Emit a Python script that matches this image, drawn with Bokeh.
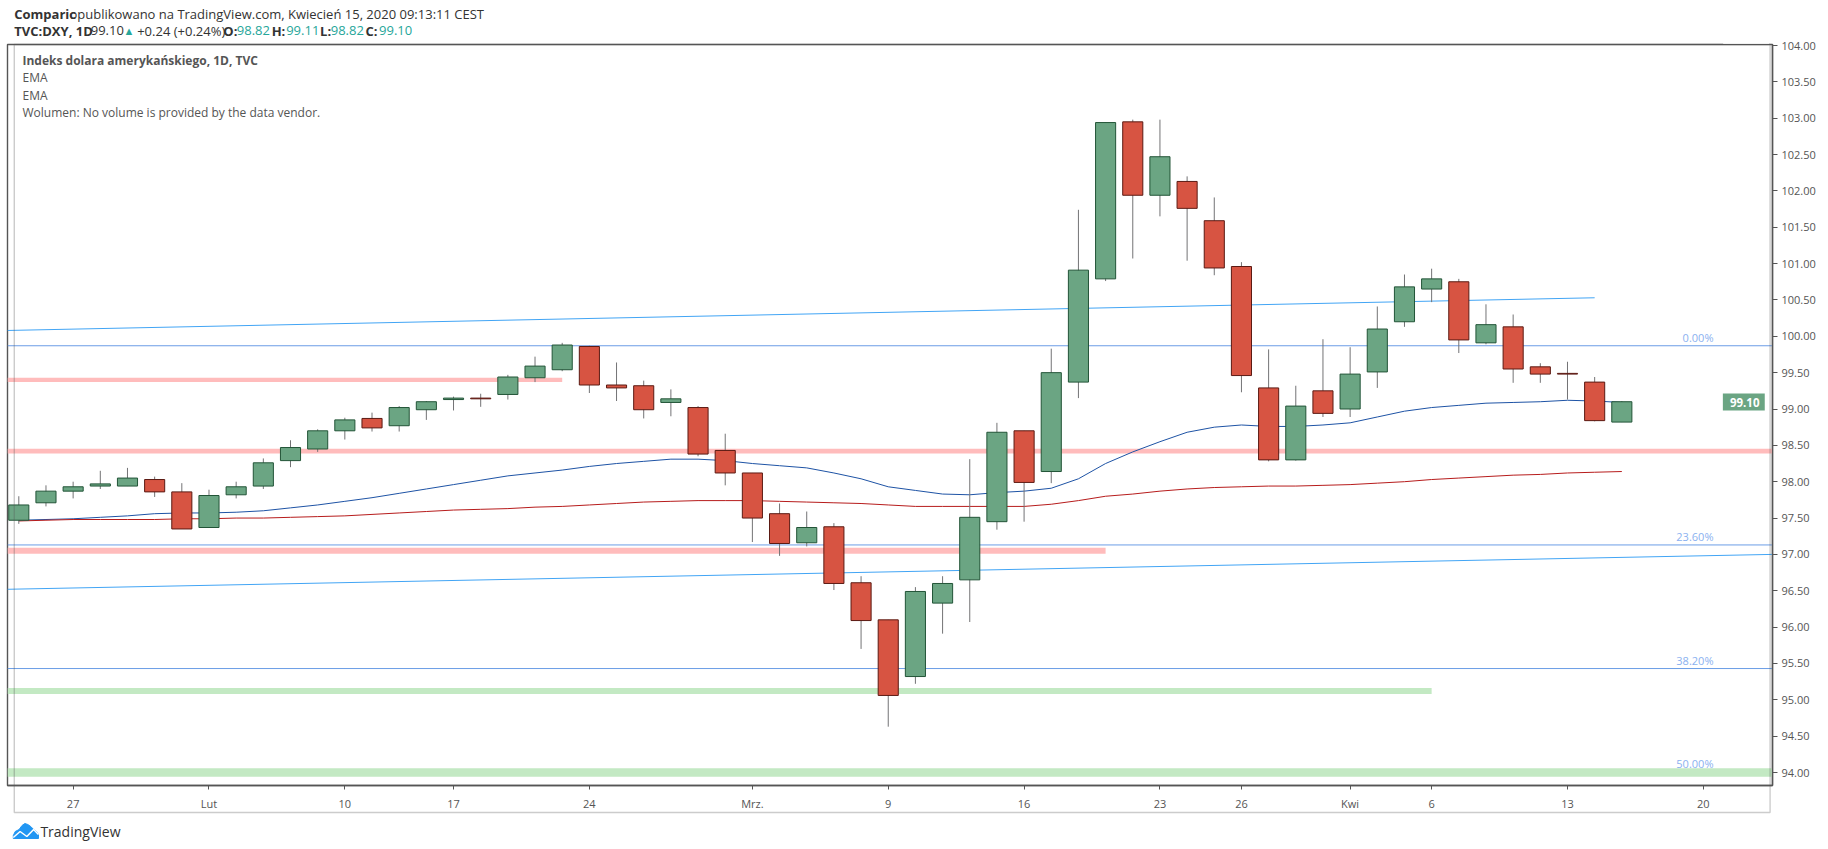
from bokeh.plotting import figure
from bokeh.layouts import column
from bokeh.embed import file_html
from bokeh.resources import INLINE
from bokeh.models import (Range1d, LinearAxis, FixedTicker, NumeralTickFormatter, Label, BoxAnnotation)

# ---- data ----
opens = [97.47,97.71,97.87,97.94,97.94,98.03,97.86,97.37,97.82,97.94,
         98.29,98.45,98.70,98.87,98.77,98.99,99.13,99.15,99.20,99.43,
         99.54,99.86,99.33,99.32,99.09,99.02,98.43,98.12,97.56,97.16,
         97.38,96.61,96.10,95.32,96.33,96.65,97.45,98.70,98.14,99.37,
         100.79,102.95,101.94,102.13,101.59,100.96,99.29,98.30,99.25,99.00,
         99.51,100.20,100.65,100.75,99.91,100.13,99.58,99.49,99.37,98.82]
highs = [97.80,97.95,98.00,98.15,98.19,98.07,97.98,97.89,98.00,98.32,
         98.57,98.72,98.88,98.95,99.04,99.11,99.17,99.21,99.47,99.72,
         99.91,99.87,99.64,99.39,99.27,99.04,98.66,98.12,97.70,97.59,
         97.43,96.70,96.10,96.55,96.70,98.31,98.81,98.70,99.83,101.74,
         102.94,102.98,102.98,102.20,101.91,101.02,99.82,99.32,99.96,99.85,
         100.41,100.85,100.93,100.79,100.44,100.30,99.63,99.65,99.44,99.11]
lows = [97.42,97.66,97.77,97.90,97.94,97.79,97.35,97.37,97.77,97.90,
        98.20,98.41,98.58,98.69,98.69,98.85,98.98,99.03,99.13,99.37,
        99.52,99.22,99.11,98.87,98.90,98.35,97.95,97.17,96.98,97.11,
        96.51,95.70,94.63,95.22,95.91,96.07,97.34,97.45,97.98,99.15,
        100.76,101.07,101.65,101.04,100.84,99.23,98.28,98.29,98.89,98.89,
        99.29,100.13,100.47,99.77,99.89,99.36,99.36,99.13,98.83,98.82]
closes = [97.68,97.87,97.93,97.97,98.05,97.86,97.35,97.81,97.93,98.26,
          98.47,98.70,98.85,98.74,99.02,99.10,99.15,99.14,99.44,99.59,
          99.88,99.33,99.29,98.99,99.14,98.38,98.12,97.50,97.15,97.37,
          96.60,96.09,95.06,96.49,96.60,97.51,98.68,97.99,99.50,100.91,
          102.94,101.94,102.47,101.76,100.94,99.46,98.30,99.04,98.94,99.48,
          100.10,100.68,100.79,99.95,100.16,99.55,99.48,99.48,98.84,99.10]
ema_fast = [97.47,97.48,97.49,97.51,97.53,97.56,97.57,97.57,97.58,97.60,
            97.64,97.68,97.73,97.78,97.84,97.90,97.96,98.02,98.08,98.12,
            98.16,98.21,98.25,98.28,98.31,98.31,98.29,98.25,98.22,98.19,
            98.12,98.04,97.93,97.88,97.83,97.82,97.85,97.87,97.91,98.04,
            98.25,98.41,98.55,98.68,98.75,98.78,98.76,98.76,98.78,98.81,
            98.89,98.97,99.02,99.05,99.08,99.09,99.10,99.12,99.11,99.09]
ema_slow = [97.46,97.47,97.48,97.48,97.48,97.48,97.49,97.49,97.50,97.50,
            97.51,97.52,97.53,97.55,97.57,97.59,97.61,97.62,97.63,97.65,
            97.66,97.68,97.70,97.72,97.73,97.74,97.74,97.74,97.73,97.72,
            97.71,97.70,97.68,97.66,97.66,97.66,97.66,97.66,97.69,97.74,
            97.80,97.83,97.87,97.90,97.92,97.93,97.94,97.94,97.95,97.96,
            97.98,98.00,98.03,98.05,98.07,98.09,98.10,98.12,98.13,98.14]
xtick_idx = [2,7,12,16,21,27,32,37,42,45,49,52,57,62]
xtick_labels = ["27","Lut","10","17","24","Mrz.","9","16","23","26","Kwi","6","13","20"]
ytick_vals = [94,94.5,95,95.5,96,96.5,97,97.5,98,98.5,99,99.5,100,100.5,101,101.5,102,102.5,103,103.5,104]
fib_levels = [99.87,97.13,95.43,94.01]
fib_labels = ["0.00%","23.60%","38.20%","50.00%"]
pink_levels = [99.40,98.42,97.05]
pink_ends = [20,64.55,40]
pink_widths = [4.4,4.8,6]
green_levels = [95.12,94.00]
green_ends = [52,64.55]
green_widths = [6,8.5]
trend_x0 = [-0.42,-0.42]
trend_y0 = [100.08,96.52]
trend_x1 = [58,64.55]
trend_y1 = [100.53,97.00]
logo_x = [6,6,8,12,15,18,21,24,27,30,32,32]
logo_y = [838,835,831,829,825,823,824,826,829,831,834,838]
zig_x = [6,13,20,27,32]
zig_y = [837,831,836,829,834]

# ---- frame geometry (canvas px) ----
W, H = 1824, 841
FL, FR, FT, FB = 7, 1772, 44, 785
x0, x1 = (FL-18.3)/27.17, (FR-18.3)/27.17
y1, y0 = 94+(772-FT)/72.7, 94+(772-FB)/72.7
px_of_y = lambda v: 772-(v-94)*72.7

GRID = "#555555"
FONT = "Open Sans"

p = figure(width=W, height=H, output_backend="svg", toolbar_location=None,
           x_range=Range1d(x0, x1), y_range=Range1d(y0, y1),
           min_border_left=FL, min_border_right=W-FR, min_border_top=FT, min_border_bottom=H-FB,
           y_axis_location=None, tools="", background_fill_color="white")
p.grid.visible = False
p.outline_line_color = GRID
p.outline_line_width = 1.4

xa = p.xaxis[0]
xa.ticker = FixedTicker(ticks=xtick_idx)
xa.major_label_overrides = dict(zip(xtick_idx, xtick_labels))
ya = LinearAxis(ticker=FixedTicker(ticks=ytick_vals), formatter=NumeralTickFormatter(format="0.00"))
p.add_layout(ya, "right")
for a in (xa, ya):
    a.axis_line_color = GRID
    a.axis_line_width = 1.4
    a.major_tick_line_color = GRID
    a.minor_tick_line_color = None
    a.major_tick_in = 0
    a.major_label_text_color = "#555555"
    a.major_label_text_font = FONT
    a.major_label_text_font_size = "11px"
xa.major_tick_out = 4
xa.major_label_standoff = 6
ya.major_tick_out = 5
ya.major_label_standoff = 4

idx = list(range(len(opens)))

# bands, fib lines, trend lines
for lv, e, w in zip(pink_levels, pink_ends, pink_widths):
    p.line([x0, e], [lv, lv], line_color="#ffbcbc", line_width=w)
for lv, e, w in zip(green_levels, green_ends, green_widths):
    p.line([x0, e], [lv, lv], line_color="#c3e9c3", line_width=w)
p.segment(x0=[x0]*3, y0=fib_levels[:3], x1=[x1]*3, y1=fib_levels[:3], line_color="#6b9de6", line_width=1)
p.segment(x0=trend_x0, y0=trend_y0, x1=trend_x1, y1=trend_y1, line_color="#42a5f5", line_width=1)
p.line(idx, ema_fast, line_color="#1e53a5", line_width=1)
p.line(idx, ema_slow, line_color="#b71c1c", line_width=1)

# candles
p.segment(idx, highs, idx, lows, line_color="#737375", line_width=1)
up = [i for i in idx if closes[i] >= opens[i]]
dn = [i for i in idx if closes[i] < opens[i]]
p.vbar(up, 0.74, [closes[i] for i in up], [opens[i] for i in up],
       fill_color="#6ba583", line_color="#225437", line_width=1)
p.vbar(dn, 0.74, [opens[i] for i in dn], [closes[i] for i in dn],
       fill_color="#d75442", line_color="#5b1a13", line_width=1)

# ---- transparent overlay: page-level text and furniture, in canvas pixels ----
q = figure(width=W, height=H, output_backend="svg", toolbar_location=None,
           x_range=Range1d(0, W), y_range=Range1d(H, 0), min_border=0,
           x_axis_location=None, y_axis_location=None, tools="",
           background_fill_color=None, border_fill_color=None)
q.grid.visible = False
q.outline_line_color = None
q.margin = (-H, 0, 0, 0)

def T(px, py, text, color="#555555", bold=False, size="12px", align="left", font=FONT):
    q.add_layout(Label(x=px, y=py, text=text, text_color=color, text_font=font,
                       text_font_size=size, text_align=align, text_baseline="middle",
                       text_font_style="bold" if bold else "normal"))
def BOX(l, r, t, b, **kw):
    q.add_layout(BoxAnnotation(left=l, right=r, top=t, bottom=b, **kw))

# cover the clipped part of the 104.00 label, outer frame, last-price tag
BOX(1773, 1820.5, 32, 43.4, fill_color="white", fill_alpha=1, line_alpha=0)
BOX(FL, 1821.5, FT, 812, fill_alpha=0, line_color=GRID, line_width=1.4)
BOX(FR+0.7, 1816, 393, 410, fill_color="#6ba583", fill_alpha=1, line_alpha=0)
T(1780, 401.5, "99.10", color="white", bold=True, size="11.5px")

# fib labels
for lv, s in zip(fib_levels, fib_labels):
    T(1763, px_of_y(lv)-8, s, color="#8ab1f0", size="11px", align="right")

# header
DK = "#333333"
TEAL = "#26a69a"
T(7, 13, "Comparic", DK, True, "13px")
T(64, 13, "opublikowano na TradingView.com, Kwiecień 15, 2020 09:13:11 CEST", DK, False, "13px")
T(7, 30, "TVC:DXY, 1D", DK, True, "13px")
T(86, 30, "99.10", DK, False, "13px")
T(120, 30, "▲", TEAL, False, "11px")
T(134, 30, "+0.24 (+0.24%)", DK, False, "13px")
T(223, 30, "O:", DK, True, "13px")
T(237, 30, "98.82", TEAL, False, "13px")
T(273, 30, "H:", DK, True, "13px")
T(288, 30, "99.11", TEAL, False, "13px")
T(323, 30, "L:", DK, True, "13px")
T(334, 30, "98.82", TEAL, False, "13px")
T(370, 30, "C:", DK, True, "13px")
T(384, 30, "99.10", TEAL, False, "13px")

# legend
T(15.5, 60, "Indeks dolara amerykańskiego, 1D, TVC", "#555555", True)
T(15.5, 77, "EMA")
T(15.5, 95, "EMA")
T(15.5, 112, "Wolumen: No volume is provided by the data vendor.")

# logo
q.patch(logo_x, logo_y, fill_color="#2196f3", line_color="#2196f3")
q.line(zig_x, zig_y, line_color="white", line_width=1.5)
T(34, 831, "TradingView", DK, False, "14px")

open("out.html", "w").write(file_html(column(p, q, spacing=0), INLINE))
